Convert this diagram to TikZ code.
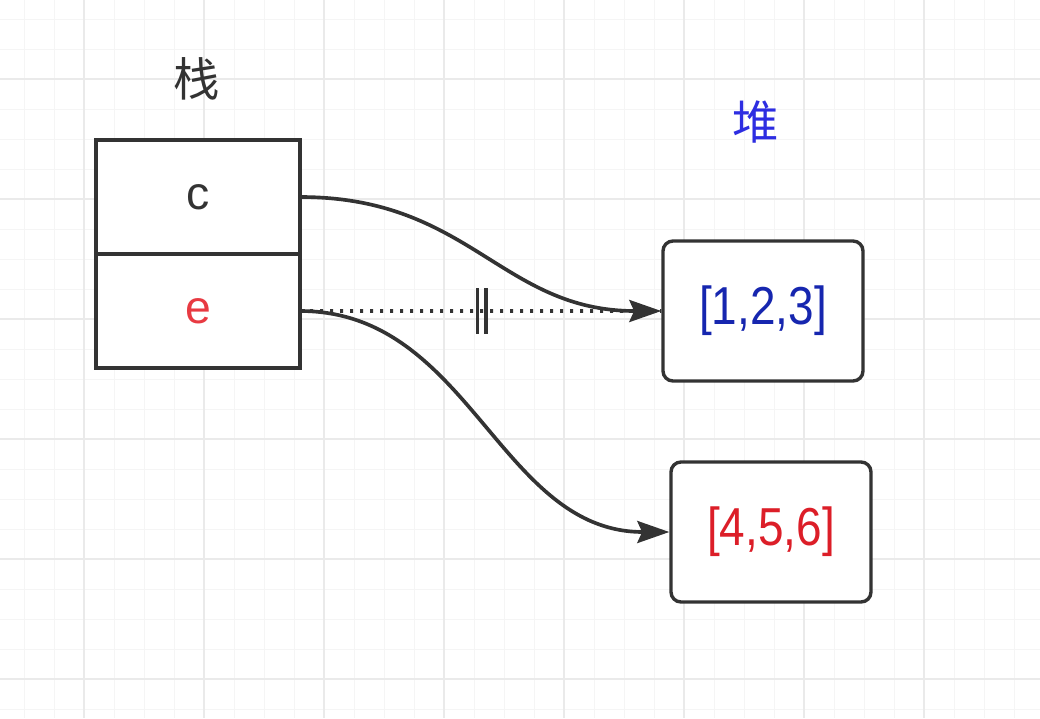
\documentclass[tikz,border=0pt]{standalone}
\usepackage{fontspec}
\setmainfont{Liberation Sans}
\newfontfamily\cjk{Noto Sans CJK SC}
\newfontfamily\narrowsans[FakeStretch=0.86]{Liberation Sans}
\definecolor{linegray}{RGB}{51,51,51}
\definecolor{gridminor}{RGB}{245,245,245}
\definecolor{gridmajor}{RGB}{234,234,234}
\definecolor{heapblue}{RGB}{45,45,225}
\definecolor{listblue}{RGB}{22,38,175}
\definecolor{listred}{RGB}{220,30,40}
\definecolor{varred}{RGB}{232,58,66}
\usetikzlibrary{arrows.meta,positioning}

\tikzset{
  cell/.style={draw=linegray, fill=white, line width=2.4pt, outer sep=0pt,
    minimum width=51mm, minimum height=28.5mm, font=\fontsize{33}{33}\selectfont, text=linegray},
  heapbox/.style={draw=linegray, fill=white, line width=2.4pt, rounded corners=2.5mm,
    minimum width=50mm, minimum height=35mm, font=\narrowsans\fontsize{38}{38}\selectfont},
  title/.style={font=\cjk\fontsize{33}{33}\selectfont, text=linegray},
  link/.style={draw=linegray, line width=2.6pt,
    -{Stealth[length=8mm, width=5.5mm, inset=1.2mm]}},
  cutline/.style={draw=linegray, line width=2.6pt, dash pattern=on 0.8mm off 1.7mm},
}

\begin{document}
\begin{tikzpicture}[x=0.25mm, y=-0.25mm]
  \useasboundingbox (0,0) rectangle (1040,718);
  %% grid
  \foreach \gx in {24,54,...,1040} \draw[gridminor, line width=0.7pt] (\gx,0) -- (\gx,718);
  \foreach \gy in {19,49,...,718} \draw[gridminor, line width=0.7pt] (0,\gy) -- (1040,\gy);
  \foreach \gx in {84,204,...,1040} \draw[gridmajor, line width=0.8pt] (\gx,0) -- (\gx,718);
  \foreach \gy in {79,199,...,718} \draw[gridmajor, line width=0.8pt] (0,\gy) -- (1040,\gy);

  %% stack
  \node[title] (stack) at (197,79) {栈};
  \node[cell] (c) at (198,197) {c};
  \node[cell, text=varred, below=0pt of c] (e) {e};

  %% heap
  \node[title, text=heapblue] (heap) at (756,122) {堆};
  \node[heapbox, text=listblue] (h1) at (763,311) {[1,2,3]};
  \node[heapbox, text=listred] (h2) at (771,532) {[4,5,6]};

  %% references
  \draw[cutline] (e.east) -- coordinate[pos=0.503] (cut) (h1.west);
  \draw[linegray, line width=2.6pt] ([xshift=-1.1mm]cut) ++(0,-23) -- ++(0,46)
    ([xshift=1.1mm]cut) ++(0,-23) -- ++(0,46);
  \draw[link] (c.east) .. controls +(170,0) and +(-160,0) .. (h1.west);
  \draw[link] (e.east) .. controls +(170,0) and +(-170,0) .. (h2.west);
\end{tikzpicture}
\end{document}
